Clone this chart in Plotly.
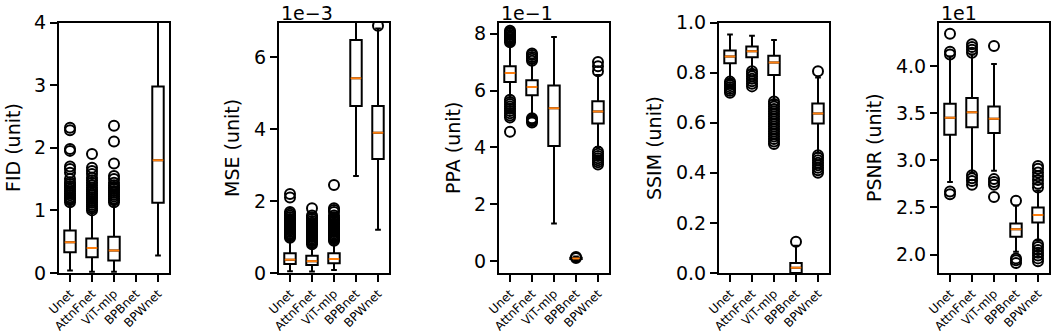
import plotly.graph_objects as go

CATEGORIES = ["Unet", "AttnFnet", "ViT-mlp", "BPBnet", "BPWnet"]

# ---------------- FID ----------------
FID_LO = [0.04, 0.02, 0.02, None, 0.28]
FID_Q1 = [0.33, 0.25, 0.20, None, 1.12]
FID_MED = [0.49, 0.40, 0.36, None, 1.80]
FID_Q3 = [0.68, 0.55, 0.58, None, 2.98]
FID_HI = [1.10, 0.98, 1.10, None, 5.20]
FID_OUT = [
    [1.13, 1.16, 1.19, 1.21, 1.24, 1.27, 1.30, 1.33, 1.36, 1.39, 1.42, 1.45, 1.50, 1.60, 1.66, 1.70, 1.95, 1.98, 2.28, 2.32],
    [1.00, 1.03, 1.06, 1.09, 1.12, 1.15, 1.18, 1.21, 1.24, 1.27, 1.30, 1.33, 1.36, 1.40, 1.44, 1.48, 1.52, 1.58, 1.63, 1.68, 1.90],
    [1.13, 1.16, 1.19, 1.22, 1.25, 1.28, 1.31, 1.34, 1.37, 1.40, 1.44, 1.50, 1.55, 1.75, 2.10, 2.35],
    [],
    [],
]

# ---------------- MSE (x1e-3) ----------------
MSE_LO = [0.05, 0.04, 0.08, 2.70, 1.20]
MSE_Q1 = [0.25, 0.22, 0.27, 4.65, 3.17]
MSE_MED = [0.37, 0.33, 0.39, 5.42, 3.90]
MSE_Q3 = [0.55, 0.48, 0.55, 6.48, 4.65]
MSE_HI = [0.95, 0.78, 0.88, 8.50, 6.80]
MSE_OUT = [
    [0.98, 1.02, 1.06, 1.10, 1.14, 1.18, 1.22, 1.26, 1.30, 1.34, 1.38, 1.42, 1.46, 1.50, 1.55, 1.60, 1.65, 1.70, 2.10, 2.20],
    [0.80, 0.84, 0.88, 0.92, 0.96, 1.00, 1.04, 1.08, 1.12, 1.16, 1.20, 1.24, 1.28, 1.32, 1.36, 1.40, 1.45, 1.50, 1.55, 1.60, 1.80],
    [0.90, 0.94, 0.98, 1.02, 1.06, 1.10, 1.14, 1.18, 1.22, 1.26, 1.30, 1.34, 1.38, 1.42, 1.46, 1.50, 1.55, 1.60, 1.70, 1.75, 1.80, 2.45],
    [],
    [6.88],
]

# ---------------- PPA (x1e-1) ----------------
PPA_LO = [5.75, 5.10, 1.33, 0.05, 4.02]
PPA_Q1 = [6.30, 5.83, 4.05, 0.08, 4.84]
PPA_MED = [6.62, 6.12, 5.38, 0.10, 5.26]
PPA_Q3 = [6.85, 6.36, 6.18, 0.13, 5.62]
PPA_HI = [7.65, 6.95, 7.88, 0.17, 6.55]
PPA_OUT = [
    [4.55, 5.05, 5.12, 5.20, 5.28, 5.36, 5.44, 5.52, 5.60, 5.68, 7.70, 7.75, 7.80, 7.85, 7.90, 7.95, 8.00, 8.05, 8.10],
    [4.88, 4.93, 4.98, 5.03, 7.05, 7.12, 7.18, 7.25, 7.30],
    [],
    [0.12, 0.15],
    [3.40, 3.48, 3.55, 3.62, 3.70, 3.78, 3.86, 6.68, 6.85, 7.00],
]

# ---------------- SSIM ----------------
SSIM_LO = [0.770, 0.810, 0.690, 0.000, 0.480]
SSIM_Q1 = [0.837, 0.861, 0.790, 0.000, 0.597]
SSIM_MED = [0.864, 0.885, 0.840, 0.021, 0.637]
SSIM_Q3 = [0.888, 0.904, 0.867, 0.040, 0.677]
SSIM_HI = [0.952, 0.947, 0.930, 0.109, 0.780]
SSIM_OUT = [
    [0.720, 0.728, 0.735, 0.742, 0.750, 0.757, 0.764],
    [0.745, 0.755, 0.765, 0.775, 0.785, 0.795, 0.805],
    [0.515, 0.525, 0.535, 0.545, 0.555, 0.565, 0.575, 0.585, 0.595, 0.605, 0.615, 0.625, 0.635, 0.645, 0.655, 0.665, 0.675, 0.685],
    [0.125],
    [0.400, 0.410, 0.420, 0.430, 0.440, 0.450, 0.460, 0.470, 0.805],
]

# ---------------- PSNR (x1e1) ----------------
PSNR_LO = [2.77, 2.87, 2.89, 2.03, 2.15]
PSNR_Q1 = [3.27, 3.35, 3.29, 2.19, 2.34]
PSNR_MED = [3.45, 3.51, 3.44, 2.27, 2.42]
PSNR_Q3 = [3.60, 3.66, 3.57, 2.33, 2.50]
PSNR_HI = [4.10, 4.12, 4.02, 2.52, 2.68]
PSNR_OUT = [
    [2.64, 2.67, 4.12, 4.15, 4.34],
    [2.74, 2.78, 2.81, 2.84, 4.14, 4.17, 4.20, 4.23],
    [2.61, 2.74, 2.77, 2.80, 4.21],
    [1.91, 1.94, 1.96, 2.57],
    [1.93, 1.96, 1.99, 2.02, 2.05, 2.08, 2.11, 2.71, 2.75, 2.79, 2.83, 2.87, 2.91, 2.94],
]

PANELS = [
    ("FID (unit)", "", FID_LO, FID_Q1, FID_MED, FID_Q3, FID_HI, FID_OUT, [0, 4], [0, 1, 2, 3, 4], "d"),
    ("MSE (unit)", "1e\u22123", MSE_LO, MSE_Q1, MSE_MED, MSE_Q3, MSE_HI, MSE_OUT, [0, 6.97], [0, 2, 4, 6], "d"),
    ("PPA (unit)", "1e\u22121", PPA_LO, PPA_Q1, PPA_MED, PPA_Q3, PPA_HI, PPA_OUT, [-0.41, 8.39], [0, 2, 4, 6, 8], "d"),
    ("SSIM (unit)", "", SSIM_LO, SSIM_Q1, SSIM_MED, SSIM_Q3, SSIM_HI, SSIM_OUT, [0, 1.0], [0, 0.2, 0.4, 0.6, 0.8, 1.0], ".1f"),
    ("PSNR (unit)", "1e1", PSNR_LO, PSNR_Q1, PSNR_MED, PSNR_Q3, PSNR_HI, PSNR_OUT, [1.805, 4.46], [2.0, 2.5, 3.0, 3.5, 4.0], ".1f"),
]

W, H = 1052, 332
LEFTS = [59, 279, 499, 719, 939]
PW = 110
TOP, BOTTOM = 22.5, 273
TITLE_X = [13, 232, 453, 654, 874]
FONT = "DejaVu Sans"
LW = 2

fig = go.Figure()
layout = dict(
    template="none",
    width=W, height=H, margin=dict(l=0, r=0, t=0, b=0, autoexpand=False),
    paper_bgcolor="white", plot_bgcolor="white", showlegend=False,
    font=dict(family=FONT, color="black"), annotations=[],
)

for i, (title, offset, lo, q1, med, q3, hi, outs, yr, tv, fmt) in enumerate(PANELS):
    n = i + 1
    xa, ya = f"x{n}" if n > 1 else "x", f"y{n}" if n > 1 else "y"
    idx = [k for k in range(len(CATEGORIES)) if med[k] is not None]
    pos = [k + 1 for k in idx]
    fig.add_trace(go.Box(
        x=pos, q1=[q1[k] for k in idx], median=[med[k] for k in idx], q3=[q3[k] for k in idx],
        lowerfence=[lo[k] for k in idx], upperfence=[hi[k] for k in idx],
        width=0.52, whiskerwidth=0.5, boxpoints=False,
        line=dict(color="black", width=LW), fillcolor="rgba(0,0,0,0)",
        xaxis=xa, yaxis=ya, hoverinfo="skip",
    ))
    mx, my = [], []
    for k in idx:
        mx += [k + 1 - 0.24, k + 1 + 0.24, None]
        my += [med[k], med[k], None]
    fig.add_trace(go.Scatter(x=mx, y=my, mode="lines", line=dict(color="#ff7f0e", width=LW),
                             xaxis=xa, yaxis=ya, hoverinfo="skip"))
    ox, oy = [], []
    for k, vals in enumerate(outs):
        ox += [k + 1] * len(vals)
        oy += vals
    fig.add_trace(go.Scatter(x=ox, y=oy, mode="markers",
                             marker=dict(symbol="circle-open", size=10, color="black", line=dict(width=2, color="black")),
                             xaxis=xa, yaxis=ya, hoverinfo="skip"))

    axis_common = dict(showline=True, mirror=True, linecolor="black", linewidth=LW,
                       ticks="outside", ticklen=7, tickwidth=LW, tickcolor="black",
                       showgrid=False, zeroline=False, automargin=False)
    key_x = "xaxis" if n == 1 else f"xaxis{n}"
    key_y = "yaxis" if n == 1 else f"yaxis{n}"
    layout[key_x] = dict(axis_common, domain=[LEFTS[i] / W, (LEFTS[i] + PW) / W], anchor=ya,
                         range=[0.5, 5.5], tickvals=[1, 2, 3, 4, 5], ticktext=CATEGORIES,
                         tickangle=-45, tickfont=dict(size=12, family=FONT))
    layout[key_y] = dict(axis_common, domain=[1 - BOTTOM / H, 1 - TOP / H], anchor=xa,
                         range=yr, tickvals=tv, tickformat=fmt, tickfont=dict(size=19, family=FONT))
    layout["annotations"].append(dict(
        text=title, textangle=-90, x=TITLE_X[i] / W, y=1 - 148 / H, xref="paper", yref="paper",
        xanchor="center", yanchor="middle", showarrow=False, font=dict(size=19, family=FONT)))
    if offset:
        layout["annotations"].append(dict(
            text=offset, x=LEFTS[i] / W, y=1.0, xref="paper", yref="paper",
            xanchor="left", yanchor="top", showarrow=False, font=dict(size=19, family=FONT)))

fig.update_layout(**layout)
fig.write_html("out.html", config={"displayModeBar": False},
               post_script="document.body.style.margin='0';")
